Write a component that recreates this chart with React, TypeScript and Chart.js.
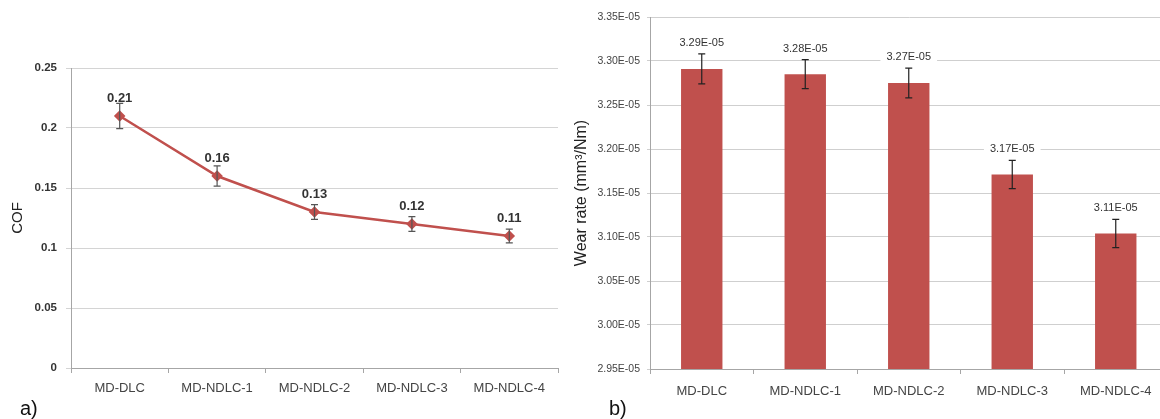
import React, { useEffect, useRef } from "react";
import { Chart, registerables } from "chart.js";

Chart.register(...registerables);

const categories = ["MD-DLC", "MD-NDLC-1", "MD-NDLC-2", "MD-NDLC-3", "MD-NDLC-4"];

const cofValues = [0.21, 0.16, 0.13, 0.12, 0.11];
const cofErrors = [0.0105, 0.0085, 0.0062, 0.0062, 0.0058];
const cofLabels = ["0.21", "0.16", "0.13", "0.12", "0.11"];
const cofTickValues = [0, 0.05, 0.1, 0.15, 0.2, 0.25];
const cofTickLabels = ["0", "0.05", "0.1", "0.15", "0.2", "0.25"];

const wearValues = [3.291e-5, 3.285e-5, 3.275e-5, 3.171e-5, 3.104e-5];
const wearErrors = [0.017e-5, 0.0165e-5, 0.017e-5, 0.016e-5, 0.016e-5];
const wearLabels = ["3.29E-05", "3.28E-05", "3.27E-05", "3.17E-05", "3.11E-05"];
const wearTickValues = [2.95e-5, 3.0e-5, 3.05e-5, 3.1e-5, 3.15e-5, 3.2e-5, 3.25e-5, 3.3e-5, 3.35e-5];
const wearTickLabels = ["2.95E-05", "3.00E-05", "3.05E-05", "3.10E-05", "3.15E-05", "3.20E-05", "3.25E-05", "3.30E-05", "3.35E-05"];

const FONT = "'Liberation Sans', Arial, sans-serif";
const RED = "#C0504D";

function errorAndLabelPlugin(
  values: number[],
  errors: number[],
  labels: string[],
  opts: { color: string; font: string; textColor: string; labelGap: number; fromErrorTop: boolean; whiteBox: boolean }
) {
  return {
    id: "errLabels",
    afterDatasetsDraw(chart: any) {
      const ctx = chart.ctx;
      const xs = chart.scales.x;
      const ys = chart.scales.y;
      ctx.save();
      values.forEach((v, i) => {
        const x = xs.getPixelForValue(i);
        const yT = ys.getPixelForValue(v + errors[i]);
        const yB = ys.getPixelForValue(v - errors[i]);
        const yV = ys.getPixelForValue(v);
        ctx.strokeStyle = opts.color;
        ctx.lineWidth = 1.2;
        ctx.beginPath();
        ctx.moveTo(x, yT);
        ctx.lineTo(x, yB);
        ctx.moveTo(x - 3.5, yT);
        ctx.lineTo(x + 3.5, yT);
        ctx.moveTo(x - 3.5, yB);
        ctx.lineTo(x + 3.5, yB);
        ctx.stroke();
        const ly = (opts.fromErrorTop ? yT : yV) - opts.labelGap;
        ctx.font = opts.font;
        const w = ctx.measureText(labels[i]).width;
        if (opts.whiteBox) {
          ctx.fillStyle = "#ffffff";
          ctx.fillRect(x - w / 2 - 6, ly - 7, w + 12, 14);
        }
        ctx.fillStyle = opts.textColor;
        ctx.textAlign = "center";
        ctx.textBaseline = "middle";
        ctx.fillText(labels[i], x, ly);
      });
      ctx.restore();
    },
  };
}

export default function App() {
  const leftRef = useRef<HTMLCanvasElement>(null);
  const rightRef = useRef<HTMLCanvasElement>(null);

  useEffect(() => {
    Chart.defaults.font.family = FONT;
    const left = new Chart(leftRef.current as HTMLCanvasElement, {
      type: "line",
      data: {
        labels: categories,
        datasets: [
          {
            data: cofValues,
            borderColor: RED,
            backgroundColor: RED,
            borderWidth: 2.5,
            pointStyle: "rectRot",
            pointRadius: 4,
            pointBackgroundColor: RED,
            pointBorderColor: RED,
            tension: 0,
          },
        ],
      },
      options: {
        responsive: false,
        animation: false,
        layout: { padding: { left: 0, top: 68, right: 12, bottom: 0 } },
        plugins: { legend: { display: false }, tooltip: { enabled: false } },
        scales: {
          x: {
            offset: true,
            afterFit: (s: any) => {
              s.height = 51;
            },
            grid: { offset: true, drawOnChartArea: false, tickLength: 5, color: "#a6a6a6" },
            border: { color: "#a6a6a6" },
            ticks: { font: { size: 13 }, color: "#444", padding: 8, maxRotation: 0 },
          },
          y: {
            min: 0,
            max: 0.25,
            afterFit: (s: any) => {
              s.width = 71;
            },
            afterBuildTicks: (s: any) => {
              s.ticks = cofTickValues.map((v) => ({ value: v }));
            },
            grid: { color: "#d4d4d4", tickLength: 5 },
            border: { color: "#a6a6a6" },
            ticks: {
              font: { size: 11.5, weight: "bold" },
              color: "#333",
              padding: 9,
              callback: (_v: any, i: number) => cofTickLabels[i],
            },
            title: { display: true, text: "COF", font: { size: 15 }, color: "#222", padding: { top: 9, bottom: 0 } },
          },
        },
      },
      plugins: [
        errorAndLabelPlugin(cofValues, cofErrors, cofLabels, {
          color: "#555",
          font: `bold 13px ${FONT}`,
          textColor: "#333",
          labelGap: 18,
          fromErrorTop: false,
          whiteBox: false,
        }),
      ],
    } as any);

    const right = new Chart(rightRef.current as HTMLCanvasElement, {
      type: "bar",
      data: {
        labels: categories,
        datasets: [
          {
            data: wearValues,
            backgroundColor: RED,
            borderWidth: 0,
            barPercentage: 0.4,
            categoryPercentage: 1,
          },
        ],
      },
      options: {
        responsive: false,
        animation: false,
        layout: { padding: { left: 0, top: 17, right: 12.5, bottom: 0 } },
        plugins: { legend: { display: false }, tooltip: { enabled: false } },
        scales: {
          x: {
            afterFit: (s: any) => {
              s.height = 50;
            },
            grid: { offset: true, drawOnChartArea: false, tickLength: 5, color: "#a6a6a6" },
            border: { color: "#a6a6a6" },
            ticks: { font: { size: 13 }, color: "#444", padding: 10, maxRotation: 0 },
          },
          y: {
            min: 2.95e-5,
            max: 3.35e-5,
            afterFit: (s: any) => {
              s.width = 90;
            },
            afterBuildTicks: (s: any) => {
              s.ticks = wearTickValues.map((v) => ({ value: v }));
            },
            grid: { color: "#cfcfcf", tickLength: 3 },
            border: { color: "#a6a6a6" },
            ticks: {
              font: { size: 10.5 },
              color: "#444",
              padding: 7,
              callback: (_v: any, i: number) => wearTickLabels[i],
            },
            title: {
              display: true,
              text: "Wear rate (mm³/Nm)",
              font: { size: 16 },
              color: "#222",
              padding: { top: 12, bottom: 0 },
            },
          },
        },
      },
      plugins: [
        errorAndLabelPlugin(wearValues, wearErrors, wearLabels, {
          color: "#222",
          font: `11px ${FONT}`,
          textColor: "#333",
          labelGap: 11,
          fromErrorTop: true,
          whiteBox: true,
        }),
      ],
    } as any);

    return () => {
      left.destroy();
      right.destroy();
    };
  }, []);

  const labelStyle: React.CSSProperties = {
    position: "absolute",
    top: 398,
    fontFamily: FONT,
    fontSize: 20,
    lineHeight: "20px",
    color: "#111",
  };

  return (
    <div
      style={{
        position: "fixed",
        left: 0,
        top: 0,
        width: 1160,
        height: 419,
        overflow: "hidden",
        background: "#fff",
      }}
    >
      <canvas ref={leftRef} width={570} height={419} style={{ position: "absolute", left: 0, top: 0 }} />
      <canvas ref={rightRef} width={620} height={419} style={{ position: "absolute", left: 560, top: 0 }} />
      <div style={{ ...labelStyle, left: 20 }}>a)</div>
      <div style={{ ...labelStyle, left: 609 }}>b)</div>
    </div>
  );
}
